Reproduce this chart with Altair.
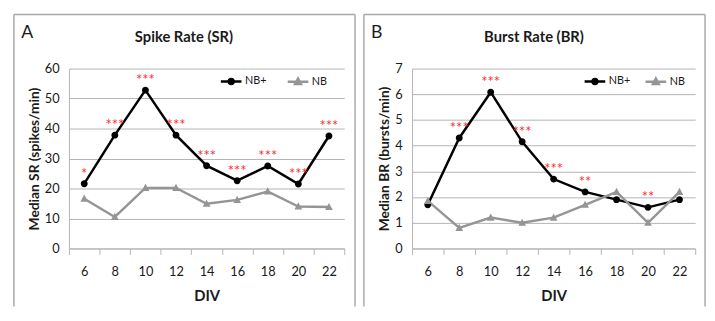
import altair as alt
import pandas as pd

DIV = [6, 8, 10, 12, 14, 16, 18, 20, 22]
SERIES = ["NB+", "NB"]
SERIES_COLORS = ["#000000", "#959595"]

SR_NBPLUS = [21.6, 37.8, 52.8, 37.8, 27.6, 22.6, 27.5, 21.5, 37.5]
SR_NB = [16.6, 10.5, 20.2, 20.2, 14.9, 16.2, 19.0, 14.0, 13.8]
SR_SIG = ["*", "***", "***", "***", "***", "***", "***", "***", "***"]

BR_NBPLUS = [1.7, 4.3, 6.08, 4.15, 2.7, 2.2, 1.9, 1.6, 1.9]
BR_NB = [1.85, 0.8, 1.2, 1.0, 1.2, 1.7, 2.2, 1.0, 2.2]
BR_SIG = ["", "***", "***", "***", "***", "**", "", "**", ""]

SR_TICKS = [0, 10, 20, 30, 40, 50, 60]
BR_TICKS = [0, 1, 2, 3, 4, 5, 6, 7]

FONT = "Lato"
GRID = "#b4b4b4"
TXT = "#1a1a1a"
FRAME = "#a9a9a9"

# symbol shapes: a horizontal line (only visible in the legend, where it is stroked)
# plus a circle / triangle marker
P_CIRCLE = "M-1,0L1,0M-0.25,0A0.25,0.25,0,1,1,0.25,0A0.25,0.25,0,1,1,-0.25,0Z"
P_TRI = "M-1,0L1,0M0,-0.3L0.28,0.22L-0.28,0.22Z"


def make_df(plus, nb, sig):
    rows = []
    for d, v, s in zip(DIV, plus, sig):
        rows.append({"div": d, "series": "NB+", "value": v, "sig": s})
    for d, v in zip(DIV, nb):
        rows.append({"div": d, "series": "NB", "value": v, "sig": ""})
    return pd.DataFrame(rows)


def frame(box):
    """Open panel frame (left, top, right edges) running off the bottom."""
    x0, x1, y0, y1 = box
    one = alt.Data(values=[{}])
    left = alt.Chart(one).mark_rule(color=FRAME, strokeWidth=1.5).encode(
        x=alt.value(x0), y=alt.value(y0), y2=alt.value(y1))
    right = alt.Chart(one).mark_rule(color=FRAME, strokeWidth=1.5).encode(
        x=alt.value(x1), y=alt.value(y0), y2=alt.value(y1))
    top = alt.Chart(one).mark_rule(color=FRAME, strokeWidth=1.5).encode(
        x=alt.value(x0), x2=alt.value(x1), y=alt.value(y0))
    return [left, right, top]


def panel(letter, title, title_x, ytitle, ydom, yticks, width, box, letter_pos,
          legend_x, col_pad, plus, nb, sig):
    df = make_df(plus, nb, sig)
    base = alt.Chart(df)
    X = alt.X(
        "div:O", sort=DIV, bandPosition=0.5,
        scale=alt.Scale(type="band", paddingInner=0, paddingOuter=0),
        axis=alt.Axis(title="DIV", labelAngle=0, tickBand="extent", tickSize=6,
                      tickColor=GRID, domainColor=GRID, grid=False,
                      labelFont=FONT, labelFontSize=13, labelColor=TXT, labelPadding=12,
                      titleFont=FONT, titleFontSize=15, titleFontWeight="bold",
                      titleColor=TXT, titlePadding=10),
    )
    Y = alt.Y(
        "value:Q",
        scale=alt.Scale(domain=ydom, nice=False, zero=True),
        axis=alt.Axis(title=ytitle, values=yticks, grid=True, gridColor=GRID,
                      gridWidth=1, domainColor=GRID, ticks=False,
                      labelFont=FONT, labelFontSize=13, labelColor=TXT, labelPadding=10,
                      titleFont=FONT, titleFontSize=14, titleFontWeight="bold",
                      titleColor=TXT, titlePadding=3),
    )
    legend = alt.Legend(
        title=None, orient="none", legendX=legend_x, legendY=1, direction="horizontal",
        symbolSize=441, symbolStrokeWidth=2.5, labelFont=FONT, labelFontSize=11,
        labelColor=TXT, labelOffset=2, columnPadding=col_pad, padding=0,
    )
    sc = alt.Scale(domain=SERIES, range=SERIES_COLORS)
    # line colours: same colours, listed in the other order so that this
    # (legend-less) scale is kept apart from the marker legend
    sc_line = alt.Scale(domain=SERIES[::-1], range=SERIES_COLORS[::-1])
    line = base.mark_line(strokeWidth=2.5).encode(
        x=X, y=Y,
        color=alt.Color("series:N", scale=sc_line, legend=None),
    )
    points = base.mark_point(filled=True, size=784, opacity=1).encode(
        x=X, y=Y,
        fill=alt.Fill("series:N", scale=sc, legend=legend),
        stroke=alt.Stroke("series:N", scale=sc, legend=legend),
        strokeWidth=alt.value(0),
        shape=alt.Shape("series:N",
                        scale=alt.Scale(domain=SERIES, range=[P_CIRCLE, P_TRI]),
                        legend=legend),
    )
    stars = base.transform_filter("datum.series === 'NB+'").mark_text(
        color="#ff2a2a", fontSize=15, font=FONT, baseline="alphabetic", dy=-5
    ).encode(x=X, y=Y, text="sig:N")
    let = alt.Chart(alt.Data(values=[{"t": letter}])).mark_text(
        font=FONT, fontSize=18, color=TXT, align="center", baseline="alphabetic"
    ).encode(x=alt.value(letter_pos[0]), y=alt.value(letter_pos[1]), text="t:N")
    ttl = alt.Chart(alt.Data(values=[{"t": title}])).mark_text(
        font=FONT, fontSize=15, fontWeight="bold", color=TXT, align="center",
        baseline="alphabetic"
    ).encode(x=alt.value(title_x), y=alt.value(-27), text="t:N")
    return alt.layer(*frame(box), let, ttl, line, points, stars).properties(
        width=width, height=183,
    )


A = panel("A", "Spike Rate (SR)", 117, "Median SR (spikes/min)", [0, 60], SR_TICKS, 280,
          (-56, 291, -55, 242), (-42.5, -31), 153, 16, SR_NBPLUS, SR_NB, SR_SIG)
B = panel("B", "Burst Rate (BR)", 124, "Median BR (bursts/min)", [0, 7], BR_TICKS, 288,
          (-49, 298, -55, 242), (-36, -31), 174, 10, BR_NBPLUS, BR_NB, BR_SIG)

chart = alt.hconcat(A, B, spacing=5).resolve_scale(
    color="independent", fill="independent", stroke="independent", shape="independent"
).resolve_legend(
    color="independent", fill="independent", stroke="independent", shape="independent"
).properties(
    padding={"left": 4, "top": 2, "right": 0, "bottom": 0},
    background="white",
).configure_view(stroke="transparent")

chart.save("out.html", embed_options={"renderer": "svg", "actions": False})
